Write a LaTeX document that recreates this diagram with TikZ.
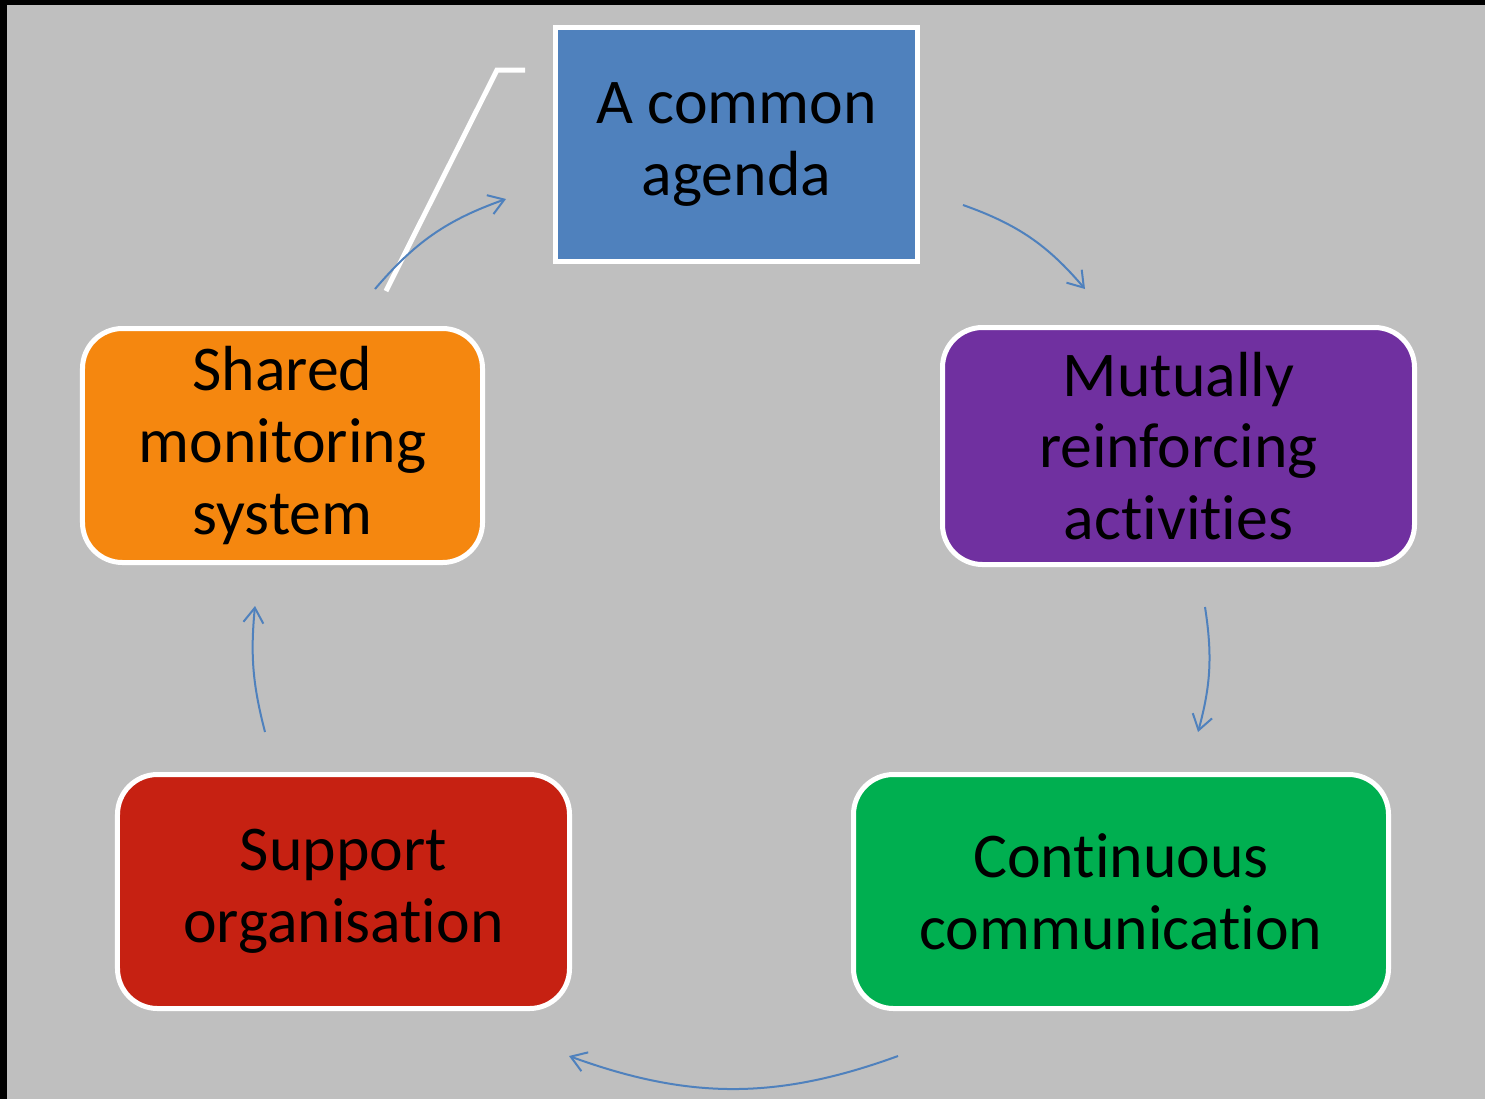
\documentclass[tikz,border=0pt]{standalone}
\usepackage{fontspec}
\setmainfont{Carlito}[Ligatures=NoCommon]
\usepackage{xcolor}
\usepackage{tikz}
\usetikzlibrary{arrows.meta,calc}

\definecolor{slidegray}{HTML}{BFBFBF}
\definecolor{agendablue}{HTML}{4F81BD}
\definecolor{activpurple}{HTML}{7030A0}
\definecolor{monitororange}{HTML}{F5870F}
\definecolor{supportred}{HTML}{C62112}
\definecolor{commsgreen}{HTML}{00AF50}

\begin{document}
\begin{tikzpicture}[x=1bp, y=1bp,
    box/.style={draw=white, line width=5bp, text=black, align=center,
        font=\fontsize{64}{72}\selectfont, inner sep=0pt, minimum height=234bp},
    roundbox/.style={box, rounded corners=40bp},
    flow/.style={-{Straight Barb[length=15bp,width=20bp]}, agendablue, line width=2bp}]
    % Slide background
    \fill[black] (0,0) rectangle (1485,-1099);
    \fill[slidegray] (7,-5) rectangle (1485,-1099);
    \useasboundingbox (0,0) rectangle (1485,-1099);

    % Stray callout line
    \draw[white, line width=5bp] (386,-291) -- (497,-70) -- (525,-70);

    % Five conditions
    \node[box, fill=agendablue, minimum width=362bp] (agenda) at (736.5,-144.5) {A common\\agenda};
    \node[roundbox, fill=activpurple, minimum width=472bp, minimum height=237bp] (mutual) at (1178.5,-446) {Mutually\\reinforcing\\activities};
    \node[roundbox, fill=commsgreen, minimum width=535bp] (comms) at (1121,-891.5) {Continuous\\communication};
    \node[roundbox, fill=supportred, minimum width=452bp] (support) at (343.5,-891.5) {Support\\organisation};
    \node[roundbox, fill=monitororange, minimum width=400bp] (monitor) at (282.5,-445.5) {Shared\\monitoring\\system};

    % Cycle arrows
    \draw[flow] ([shift={(92.5,37)}]monitor.north) to[bend left=15] ([shift={(-47,-54.5)}]agenda.west);
    \draw[flow] ([shift={(43,-60.5)}]agenda.east) to[bend left=15] ([shift={(-93.5,36)}]mutual.north);
    \draw[flow] ([shift={(26.5,-40)}]mutual.south) to[bend left=12] ([shift={(77,40)}]comms.north);
    \draw[flow] ([shift={(-223,-45)}]comms.south) to[bend left=20] ([shift={(225.5,-45)}]support.south);
    \draw[flow] ([shift={(-78.5,40)}]support.north) to[bend left=10] ([shift={(-27.5,-41)}]monitor.south);
\end{tikzpicture}
\end{document}
